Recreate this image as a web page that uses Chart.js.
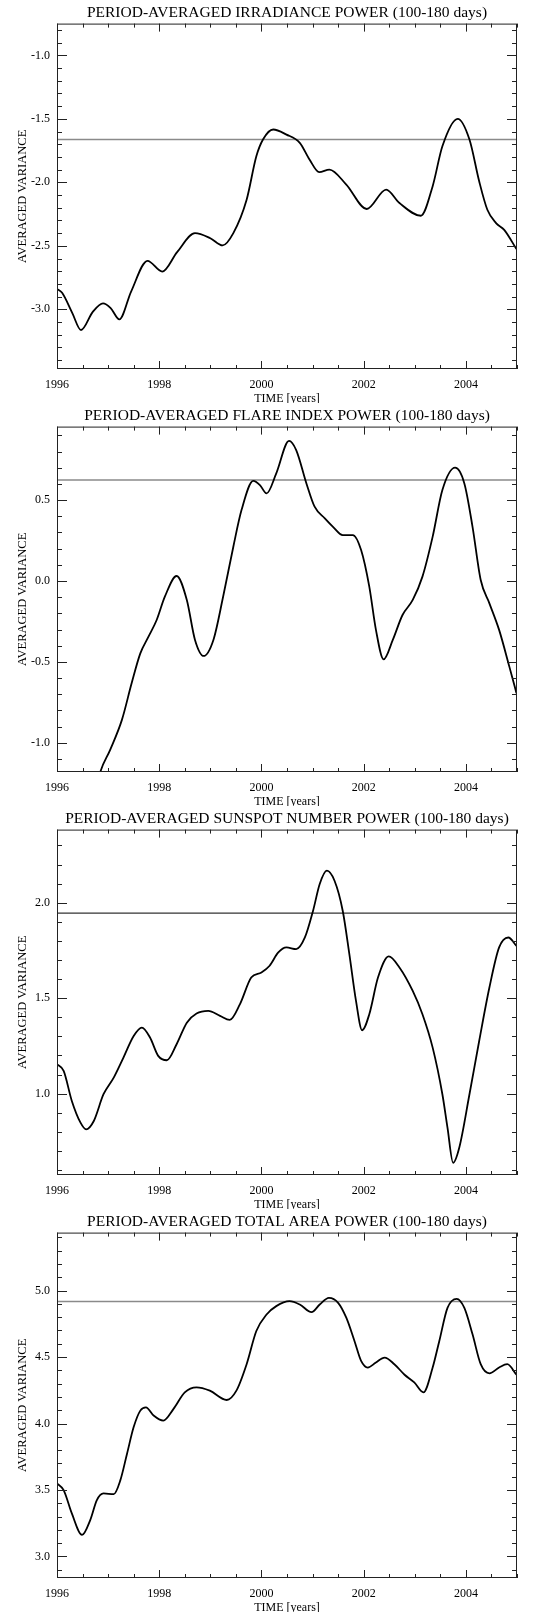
<!DOCTYPE html>
<html>
<head>
<meta charset="utf-8">
<script src="https://cdn.jsdelivr.net/npm/chart.js@4.4.1/dist/chart.umd.min.js"></script>
<style>
  body { margin: 0; background: #fff; }
  .panel { width: 550px; height: 403px; }
  canvas { display: block; }
</style>
</head>
<body>
<div class="panel"><canvas id="c1" width="550" height="403"></canvas></div>
<div class="panel"><canvas id="c2" width="550" height="403"></canvas></div>
<div class="panel"><canvas id="c3" width="550" height="403"></canvas></div>
<div class="panel"><canvas id="c4" width="550" height="403"></canvas></div>
<script>
// x axis labels
const xTickLabels = [1996, 1998, 2000, 2002, 2004];

// irradiance
const p1Years = [1996.0, 1996.1, 1996.3, 1996.47, 1996.7, 1996.9, 1997.05, 1997.22, 1997.45, 1997.77, 1998.06, 1998.35, 1998.7, 1999.0, 1999.24, 1999.45, 1999.71, 1999.9, 2000.03, 2000.23, 2000.49, 2000.75, 2000.94, 2001.13, 2001.33, 2001.66, 2002.06, 2002.44, 2002.7, 2003.12, 2003.35, 2003.54, 2003.84, 2004.07, 2004.26, 2004.42, 2004.59, 2004.75, 2004.99];
const p1Values = [-2.84, -2.87, -3.03, -3.163, -3.02, -2.953, -2.99, -3.079, -2.86, -2.618, -2.703, -2.55, -2.40, -2.44, -2.497, -2.40, -2.137, -1.795, -1.663, -1.584, -1.624, -1.689, -1.82, -1.92, -1.90, -2.018, -2.21, -2.058, -2.163, -2.263, -2.03, -1.716, -1.50, -1.663, -1.992, -2.216, -2.321, -2.374, -2.526];
const p1Level = -1.663;
const p1YTicks = [-3.0, -2.5, -2.0, -1.5, -1.0];

// flare index
const p2Years = [1996.0, 1996.25, 1996.5, 1996.7, 1996.85, 1997.04, 1997.27, 1997.46, 1997.63, 1997.79, 1997.95, 1998.11, 1998.34, 1998.54, 1998.7, 1998.87, 1999.06, 1999.25, 1999.45, 1999.61, 1999.84, 1999.97, 2000.1, 2000.29, 2000.54, 2000.68, 2000.88, 2001.04, 2001.24, 2001.4, 2001.59, 2001.79, 2001.95, 2002.11, 2002.24, 2002.39, 2002.57, 2002.76, 2002.96, 2003.15, 2003.35, 2003.54, 2003.79, 2003.97, 2004.13, 2004.29, 2004.46, 2004.65, 2004.85, 2004.99];
const p2Values = [-1.17, -1.4, -1.5, -1.38, -1.177, -1.043, -0.858, -0.632, -0.447, -0.344, -0.241, -0.097, 0.031, -0.117, -0.364, -0.463, -0.364, -0.097, 0.212, 0.438, 0.619, 0.593, 0.541, 0.665, 0.866, 0.809, 0.603, 0.459, 0.387, 0.335, 0.284, 0.284, 0.191, -0.035, -0.302, -0.484, -0.364, -0.21, -0.117, 0.027, 0.274, 0.562, 0.70, 0.603, 0.335, 0.006, -0.138, -0.302, -0.529, -0.693];
const p2Level = 0.624;
const p2YTicks = [-1.0, -0.5, 0.0, 0.5];

// sunspot number
const p3Years = [1996.0, 1996.13, 1996.29, 1996.46, 1996.57, 1996.72, 1996.91, 1997.11, 1997.3, 1997.5, 1997.66, 1997.82, 1997.98, 1998.15, 1998.34, 1998.54, 1998.73, 1998.96, 1999.19, 1999.38, 1999.58, 1999.8, 2000.0, 2000.16, 2000.33, 2000.49, 2000.68, 2000.85, 2001.01, 2001.14, 2001.28, 2001.43, 2001.59, 2001.72, 2001.85, 2001.97, 2002.11, 2002.28, 2002.49, 2002.7, 2002.96, 2003.15, 2003.35, 2003.54, 2003.64, 2003.75, 2003.87, 2004.07, 2004.26, 2004.46, 2004.65, 2004.83, 2004.99];
const p3Values = [1.154, 1.119, 0.962, 0.848, 0.813, 0.857, 0.997, 1.084, 1.189, 1.302, 1.346, 1.294, 1.198, 1.175, 1.259, 1.372, 1.42, 1.434, 1.407, 1.386, 1.469, 1.608, 1.635, 1.67, 1.74, 1.766, 1.757, 1.818, 1.958, 2.098, 2.168, 2.115, 1.958, 1.731, 1.486, 1.332, 1.416, 1.608, 1.719, 1.661, 1.538, 1.416, 1.241, 0.997, 0.822, 0.638, 0.717, 0.997, 1.276, 1.556, 1.766, 1.818, 1.774];
const p3Level = 1.946;
const p3YTicks = [1.0, 1.5, 2.0];

// total area
const p4Years = [1996.0, 1996.13, 1996.29, 1996.49, 1996.65, 1996.78, 1996.91, 1997.11, 1997.24, 1997.37, 1997.5, 1997.63, 1997.74, 1997.89, 1998.08, 1998.28, 1998.5, 1998.73, 1998.99, 1999.32, 1999.51, 1999.71, 1999.9, 2000.1, 2000.29, 2000.55, 2000.75, 2000.98, 2001.14, 2001.32, 2001.5, 2001.66, 2001.82, 2001.95, 2002.08, 2002.24, 2002.41, 2002.6, 2002.8, 2002.99, 2003.17, 2003.35, 2003.48, 2003.64, 2003.82, 2003.97, 2004.13, 2004.29, 2004.46, 2004.65, 2004.81, 2004.99];
const p4Values = [3.549, 3.499, 3.324, 3.162, 3.274, 3.424, 3.474, 3.469, 3.574, 3.773, 3.973, 4.097, 4.122, 4.06, 4.022, 4.11, 4.234, 4.272, 4.247, 4.177, 4.247, 4.446, 4.696, 4.82, 4.883, 4.92, 4.895, 4.838, 4.895, 4.945, 4.908, 4.796, 4.621, 4.471, 4.421, 4.459, 4.496, 4.446, 4.367, 4.309, 4.234, 4.421, 4.621, 4.87, 4.938, 4.87, 4.671, 4.446, 4.377, 4.421, 4.446, 4.367];
const p4Level = 4.918;
const p4YTicks = [3.0, 3.5, 4.0, 4.5, 5.0];

const serif = "'Liberation Serif', 'DejaVu Serif', serif";

// IDL-style frame with inward ticks on all four sides
const frameTicks = {
    id: 'frameTicks',
    afterDatasetsDraw(chart) {
        const { ctx, chartArea } = chart;
        const { left, right, top, bottom } = chartArea;
        const xs = chart.scales.x, ys = chart.scales.y;
        ctx.save();
        ctx.strokeStyle = '#222';
        ctx.lineWidth = 1;
        ctx.strokeRect(left + 0.5, top + 0.5, right - left - 1, bottom - top - 1);
        ctx.beginPath();
        // x ticks every half year, long at labelled years
        for (let v = 1996; v <= 2005.001; v += 0.5) {
            const px = Math.round(xs.getPixelForValue(v)) + 0.5;
            const major = xTickLabels.includes(v);
            const len = major ? 8 : 4;
            ctx.moveTo(px, bottom); ctx.lineTo(px, bottom - len);
            ctx.moveTo(px, top); ctx.lineTo(px, top + len);
        }
        // y ticks every 0.1, long every 0.5
        const lo = Math.ceil(ys.min * 10 - 1e-6), hi = Math.floor(ys.max * 10 + 1e-6);
        for (let k = lo; k <= hi; k++) {
            const py = Math.round(ys.getPixelForValue(k / 10)) + 0.5;
            const major = k % 5 === 0;
            const len = major ? 10 : 5;
            ctx.moveTo(left, py); ctx.lineTo(left + len, py);
            ctx.moveTo(right, py); ctx.lineTo(right - len, py);
        }
        ctx.stroke();
        ctx.restore();
    }
};

function makePanel(id, title, years, values, level, yTicks, ymin, ymax, levelColor, levelWidth) {
    const ctx = document.getElementById(id).getContext('2d');
    const points = years.map((x, i) => ({ x: x, y: values[i] }));
    return new Chart(ctx, {
        type: 'line',
        data: {
            datasets: [{
                data: points,
                borderColor: '#000',
                borderWidth: 1.8,
                pointRadius: 0,
                fill: false,
                cubicInterpolationMode: 'monotone'
            }, {
                data: [{ x: 1996, y: level }, { x: 2005, y: level }],
                borderColor: levelColor,
                borderWidth: levelWidth,
                pointRadius: 0,
                fill: false
            }]
        },
        options: {
            responsive: false,
            animation: false,
            devicePixelRatio: 1,
            layout: { padding: { left: 0, right: 33, top: 0, bottom: 0 } },
            plugins: {
                legend: { display: false },
                tooltip: { enabled: false },
                title: {
                    display: true,
                    fullSize: false,
                    text: title,
                    color: '#000',
                    font: { family: serif, size: 15.5, weight: 'normal' },
                    padding: { top: 4, bottom: 1 }
                }
            },
            scales: {
                x: {
                    type: 'linear',
                    min: 1996,
                    max: 2005,
                    grid: { display: false, drawTicks: false },
                    border: { display: false },
                    afterBuildTicks: (s) => { s.ticks = xTickLabels.map(v => ({ value: v })); },
                    afterFit: (s) => { s.height = 34; },
                    ticks: {
                        color: '#000',
                        padding: 9,
                        maxRotation: 0,
                        font: { family: serif, size: 12 },
                        callback: (v) => String(v)
                    },
                    title: {
                        display: true,
                        text: 'TIME [years]',
                        color: '#000',
                        font: { family: serif, size: 12 },
                        padding: { top: 0, bottom: -3 }
                    }
                },
                y: {
                    min: ymin,
                    max: ymax,
                    grid: { display: false, drawTicks: false },
                    border: { display: false },
                    afterBuildTicks: (s) => { s.ticks = yTicks.map(v => ({ value: v })); },
                    afterFit: (s) => { s.width = 57; },
                    ticks: {
                        color: '#000',
                        padding: 7,
                        font: { family: serif, size: 12 },
                        callback: (v) => v.toFixed(1)
                    },
                    title: {
                        display: true,
                        text: 'AVERAGED VARIANCE',
                        color: '#000',
                        font: { family: serif, size: 12.5 },
                        padding: { top: 15, bottom: 0 }
                    }
                }
            }
        },
        plugins: [frameTicks]
    });
}

makePanel('c1', 'PERIOD-AVERAGED IRRADIANCE POWER (100-180 days)', p1Years, p1Values, p1Level, p1YTicks, -3.47, -0.75, '#8a8a8a', 1.5);
makePanel('c2', 'PERIOD-AVERAGED FLARE INDEX POWER (100-180 days)', p2Years, p2Values, p2Level, p2YTicks, -1.18, 0.954, '#8a8a8a', 1.5);
makePanel('c3', 'PERIOD-AVERAGED SUNSPOT NUMBER POWER (100-180 days)', p3Years, p3Values, p3Level, p3YTicks, 0.574, 2.383, '#333', 1.3);
makePanel('c4', 'PERIOD-AVERAGED TOTAL AREA POWER (100-180 days)', p4Years, p4Values, p4Level, p4YTicks, 2.838, 5.436, '#8a8a8a', 1.5);
</script>
</body>
</html>
